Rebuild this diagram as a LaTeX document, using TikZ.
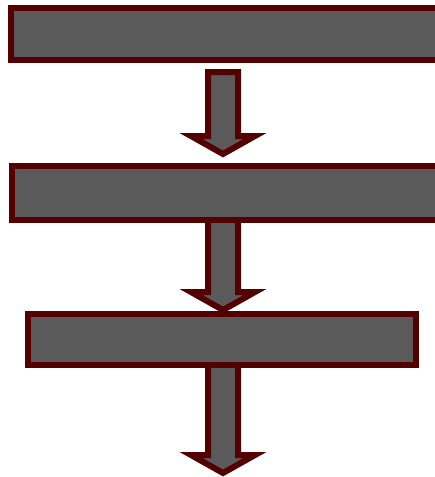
\documentclass[tikz,border=0pt]{standalone}
\usetikzlibrary{calc}
\definecolor{boxfill}{RGB}{90,90,90}
\definecolor{boxline}{RGB}{85,0,0}
\tikzset{
  stagebox/.style={draw=boxline, fill=boxfill, line width=6pt, rectangle, inner sep=0pt, line join=miter},
  blockarr/.style={draw=boxline, fill=boxfill, line width=6pt, line join=miter, miter limit=4}
}
\newcommand\blockarrow[2]{%
  \path[blockarr] ($(#1)+(-15,0)$) -- ($(#2)+(-15,-18)$) -- ($(#2)+(-32,-18)$) -- (#2)
    -- ($(#2)+(32,-18)$) -- ($(#2)+(15,-18)$) -- ($(#1)+(15,0)$) -- cycle;}
\begin{document}
\begin{tikzpicture}[x=1pt, y=-1pt]
\useasboundingbox (0,0) rectangle (435,477);
\clip (0,0) rectangle (435,477);
% arrows (drawn first, boxes cover their shaft tops)
\coordinate (a1s) at (223,72);  \coordinate (a1t) at (223,154);
\coordinate (a2s) at (223,212); \coordinate (a2t) at (223,310);
\coordinate (a3s) at (223,358); \coordinate (a3t) at (223,473);
\blockarrow{a1s}{a1t}
\blockarrow{a2s}{a2t}
\blockarrow{a3s}{a3t}
% boxes
\node[stagebox, minimum width=430pt, minimum height=52pt] (b1) at (226,34) {};
\node[stagebox, minimum width=429pt, minimum height=54pt] (b2) at (226.5,193) {};
\node[stagebox, minimum width=388pt, minimum height=51pt] (b3) at (222,339.5) {};
\end{tikzpicture}
\end{document}
